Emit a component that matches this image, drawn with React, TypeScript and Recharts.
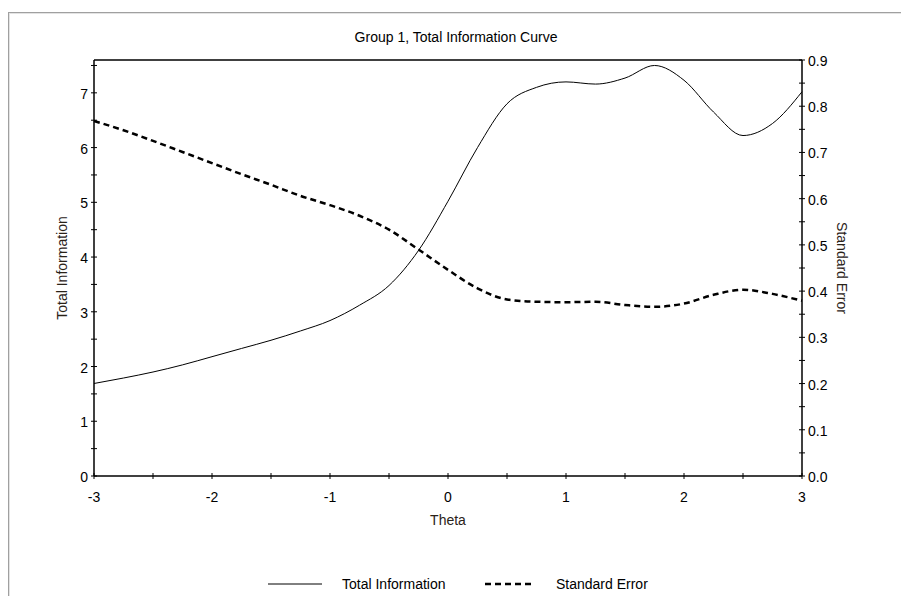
import React from 'react';
import { LineChart, Line, XAxis, YAxis, Legend, ReferenceLine } from 'recharts';

const theta = [-3, -2.75, -2.5, -2.25, -2, -1.75, -1.5, -1.25, -1, -0.75, -0.5, -0.25, 0, 0.25, 0.5, 0.75, 1, 1.25, 1.5, 1.75, 2, 2.25, 2.5, 2.75, 3];
const totalInfo = [1.69, 1.79, 1.9, 2.03, 2.18, 2.33, 2.48, 2.65, 2.84, 3.12, 3.48, 4.12, 5.02, 6.0, 6.8, 7.1, 7.2, 7.16, 7.27, 7.5, 7.23, 6.65, 6.22, 6.44, 7.02];
const stdError = [0.768, 0.748, 0.725, 0.701, 0.677, 0.653, 0.63, 0.606, 0.586, 0.563, 0.533, 0.49, 0.446, 0.406, 0.382, 0.377, 0.376, 0.377, 0.37, 0.366, 0.373, 0.392, 0.403, 0.394, 0.379];

const xTicks = [-3, -2.5, -2, -1.5, -1, -0.5, 0, 0.5, 1, 1.5, 2, 2.5, 3];
const infoTicks = [0, 0.5, 1, 1.5, 2, 2.5, 3, 3.5, 4, 4.5, 5, 5.5, 6, 6.5, 7, 7.5];
const seTicks = [0, 0.05, 0.1, 0.15, 0.2, 0.25, 0.3, 0.35, 0.4, 0.45, 0.5, 0.55, 0.6, 0.65, 0.7, 0.75, 0.8, 0.85, 0.9];

const data = theta.map((t, i) => ({ theta: t, info: totalInfo[i], se: stdError[i] }));

const FONT = '"Liberation Sans", Arial, sans-serif';
const LABEL_COLOR = '#2a2218';

const XTick = (props: any) => {
  const { x, y, payload } = props;
  const major = Number.isInteger(payload.value);
  return (
    <g>
      <line x1={x} y1={y - 3} x2={x} y2={y + 3} stroke="#000" />
      {major && (
        <text x={x} y={y + 21} textAnchor="middle" dominantBaseline="central" fontSize={14} fontFamily={FONT} fill="#000">
          {payload.value}
        </text>
      )}
    </g>
  );
};

const LeftTick = (props: any) => {
  const { x, y, payload } = props;
  const major = Number.isInteger(payload.value);
  return (
    <g>
      <line x1={x - 3} y1={y} x2={x + 3} y2={y} stroke="#000" />
      {major && (
        <text x={x - 6} y={y + 1} textAnchor="end" dominantBaseline="central" fontSize={14} fontFamily={FONT} fill="#000">
          {payload.value}
        </text>
      )}
    </g>
  );
};

const RightTick = (props: any) => {
  const { x, y, payload } = props;
  const major = Math.round(payload.value * 100) % 10 === 0;
  return (
    <g>
      <line x1={x - 3} y1={y} x2={x + 3} y2={y} stroke="#000" />
      {major && (
        <text x={x + 6} y={y + 1} textAnchor="start" dominantBaseline="central" fontSize={14} fontFamily={FONT} fill="#000">
          {payload.value.toFixed(1)}
        </text>
      )}
    </g>
  );
};

const XLabel = (props: any) => {
  const { viewBox } = props;
  return (
    <text x={viewBox.x + viewBox.width / 2} y={viewBox.y + 44} textAnchor="middle" dominantBaseline="central" fontSize={14} fontFamily={FONT} fill={LABEL_COLOR}>
      Theta
    </text>
  );
};

const SideLabel = (props: any) => {
  const { viewBox, caption, rot } = props;
  const cx = viewBox.x + viewBox.width / 2;
  const cy = viewBox.y + viewBox.height / 2;
  return (
    <text x={cx} y={cy} transform={`rotate(${rot} ${cx} ${cy})`} textAnchor="middle" dominantBaseline="central" fontSize={14} fontFamily={FONT} fill={LABEL_COLOR}>
      {caption}
    </text>
  );
};

const LegendContent = () => (
  <div style={{ position: 'relative', height: 16, fontFamily: FONT, fontSize: 14, color: '#000' }}>
    <svg style={{ position: 'absolute', left: 268, top: 0 }} width={56} height={16}>
      <line x1={0} y1={8} x2={54} y2={8} stroke="#000" strokeWidth={1} />
    </svg>
    <span style={{ position: 'absolute', left: 342, top: 0, lineHeight: '16px', whiteSpace: 'nowrap' }}>Total Information</span>
    <svg style={{ position: 'absolute', left: 485, top: 0 }} width={50} height={16}>
      <line x1={0} y1={8} x2={50} y2={8} stroke="#000" strokeWidth={2.5} strokeDasharray="6 4" />
    </svg>
    <span style={{ position: 'absolute', left: 556, top: 0, lineHeight: '16px', whiteSpace: 'nowrap' }}>Standard Error</span>
  </div>
);

export default function App() {
  return (
    <div style={{ position: 'fixed', left: 0, top: 0, width: 901, height: 596, background: '#fff', overflow: 'hidden' }}>
      <div
        style={{
          position: 'absolute',
          left: 8,
          top: 12,
          right: 0,
          bottom: 0,
          borderTop: '1px solid #a0a0a0',
          borderLeft: '1px solid #a0a0a0',
          boxShadow: 'inset 1px 1px 0 #e3e3e3',
        }}
      />
      <div
        style={{
          position: 'absolute',
          left: 0,
          top: 29,
          width: 912,
          textAlign: 'center',
          fontFamily: FONT,
          fontSize: 14,
          lineHeight: '16px',
          color: '#000',
        }}
      >
        Group 1, Total Information Curve
      </div>
      <LineChart width={901} height={596} data={data} margin={{ top: 60, right: 19, bottom: 44, left: 30 }}>
        <XAxis
          dataKey="theta"
          type="number"
          domain={[-3, 3]}
          ticks={xTicks}
          interval={0}
          tickSize={0}
          tickMargin={0}
          tickLine={false}
          tick={<XTick />}
          height={60}
          axisLine={{ stroke: '#000', strokeWidth: 1.5 }}
          label={<XLabel />}
        />
        <YAxis
          yAxisId="left"
          orientation="left"
          domain={[0, 7.6]}
          ticks={infoTicks}
          interval={0}
          tickSize={0}
          tickMargin={0}
          tickLine={false}
          tick={<LeftTick />}
          width={64}
          allowDataOverflow
          axisLine={{ stroke: '#000', strokeWidth: 1.5 }}
          label={<SideLabel caption="Total Information" rot={-90} />}
        />
        <YAxis
          yAxisId="right"
          orientation="right"
          domain={[0, 0.9]}
          ticks={seTicks}
          interval={0}
          tickSize={0}
          tickMargin={0}
          tickLine={false}
          tick={<RightTick />}
          width={80}
          allowDataOverflow
          axisLine={{ stroke: '#000', strokeWidth: 1.5 }}
          label={<SideLabel caption="Standard Error" rot={90} />}
        />
        <ReferenceLine yAxisId="left" y={7.6} stroke="#000" strokeWidth={1.5} />
        <Line
          yAxisId="left"
          dataKey="info"
          type="monotone"
          stroke="#000"
          strokeWidth={1}
          dot={false}
          isAnimationActive={false}
          name="Total Information"
        />
        <Line
          yAxisId="right"
          dataKey="se"
          type="monotone"
          stroke="#000"
          strokeWidth={2.5}
          strokeDasharray="6 4"
          dot={false}
          isAnimationActive={false}
          name="Standard Error"
        />
        <Legend
          layout="vertical"
          align="center"
          verticalAlign="bottom"
          content={<LegendContent />}
          wrapperStyle={{ left: 0, top: 576, bottom: 'auto', width: 901 }}
        />
      </LineChart>
    </div>
  );
}
